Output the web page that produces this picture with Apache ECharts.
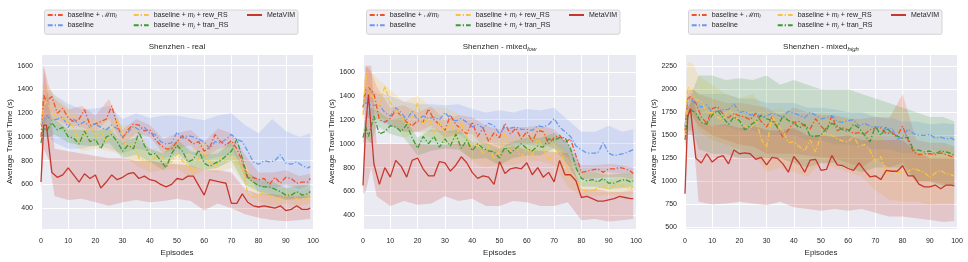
<!DOCTYPE html>
<html><head><meta charset="utf-8">
<script src="https://cdn.jsdelivr.net/npm/echarts@6/dist/echarts.min.js"></script>
<style>html,body{margin:0;padding:0;background:#fff}#c{width:968px;height:262px}</style>
</head><body><div id="c"></div>
<script>
// ---------- data ----------
const episodes = [0,1,2,4,6,8,10,12,14,16,18,20,22,24,26,28,30,32,34,36,38,40,42,44,46,48,50,52,54,56,58,60,62,64,66,68,70,72,74,76,78,80,82,84,86,88,90,92,94,96,98,99];
const bandEpisodes = [0,1,3,5,10,15,20,25,30,35,40,45,50,55,60,65,70,75,80,85,90,95,99];
const seriesNames = ['baseline + ℳm_i','baseline','baseline + m_i + rew_RS','baseline + m_i + tran_RS','MetaVIM'];
const panelTitles = ['Shenzhen - real','Shenzhen - mixed_low','Shenzhen - mixed_high'];
const xLabel = 'Episodes';
const yLabel = 'Average Travel Time (s)';

// Shenzhen - real
const real_bM   = [1000,1350,1300,1340,1200,1240,1160,1130,1150,1230,1100,1110,1130,1150,1260,1100,990,1060,1110,1100,1050,1060,980,930,900,900,960,1010,980,940,960,880,910,1020,960,930,970,900,790,650,660,640,650,600,660,610,660,650,610,620,620,650];
const real_base = [1100,1150,1180,1140,1150,1170,1080,1150,1100,1130,1080,1110,1080,1060,1100,1070,1000,1040,1090,1060,1080,1030,1020,960,940,950,1040,990,1010,1000,980,960,900,960,950,980,1020,980,960,880,790,770,800,790,800,850,780,770,790,760,740,750];
const real_rew  = [1100,1250,1310,1200,1170,1160,1130,1080,960,1020,1100,1000,1050,960,1050,1160,1000,900,960,820,800,780,830,850,780,790,860,800,760,700,820,860,790,740,830,800,850,780,760,520,490,500,540,500,470,490,500,520,480,470,480,500];
const real_tran = [950,1080,1050,1120,1060,1080,1000,990,940,1050,960,980,900,1000,1020,960,880,930,900,1040,930,850,860,800,740,860,930,880,790,810,890,780,750,780,800,840,880,980,820,660,620,590,580,580,560,540,510,510,540,510,520,540];
const real_meta = [620,1100,1100,700,660,680,740,680,620,690,650,680,570,620,680,640,660,690,700,650,670,640,630,600,580,600,650,640,670,670,590,510,640,630,620,610,440,440,520,450,420,410,420,410,400,420,380,390,420,390,390,400];
const real_bM_hi   = [1050,1600,1420,1320,1230,1260,1180,1320,1060,1150,1100,980,1030,1060,960,1070,1030,850,700,700,720,670,690];
const real_bM_lo   = [950,1100,1200,1150,1100,1080,1040,1150,930,1030,1000,860,900,930,820,900,920,660,580,560,600,560,600];
const real_base_hi = [1150,1300,1400,1350,1280,1230,1240,1260,1150,1200,1160,1180,1180,1160,1140,1180,1200,1100,1030,1150,1050,1000,1030];
const real_base_lo = [1050,1000,1000,950,900,900,930,900,860,900,880,820,850,860,800,830,850,780,520,500,480,480,500];
const real_rew_hi  = [1150,1450,1420,1350,1250,1150,1150,1150,1100,1100,900,900,950,900,950,900,950,800,560,560,570,540,560];
const real_rew_lo  = [1050,1100,1150,1100,1000,880,900,880,850,760,700,720,730,660,720,700,740,600,450,420,440,420,440];
const real_tran_hi = [1000,1150,1200,1150,1060,1060,1050,1080,950,1000,900,860,980,880,850,860,960,720,640,620,570,590,590];
const real_tran_lo = [900,1000,1000,1020,950,930,920,950,820,850,790,720,870,750,720,740,800,600,540,510,470,480,490];
const real_meta_hi = [700,1600,1300,900,880,860,840,820,820,800,800,780,770,760,720,720,700,560,520,520,500,500,500];
const real_meta_lo = [530,900,800,500,470,480,450,420,450,470,450,460,480,460,380,440,400,350,320,300,290,300,310];

// Shenzhen - mixed_low
const low_bM   = [1300,1460,1470,1420,1200,1180,1210,1280,1230,1180,1150,1190,1180,1290,1200,1160,1110,1240,1160,1120,1080,1180,1060,1130,1020,1090,1050,1170,1080,1130,1040,1100,1020,1110,1100,1000,1050,1070,1010,1040,900,760,770,780,790,760,790,790,800,790,770,750];
const low_base = [1350,1340,1330,1320,1320,1260,1230,1300,1260,1200,1270,1200,1230,1210,1220,1200,1260,1210,1190,1210,1180,1140,1160,1130,1170,1150,1080,1140,1130,1140,1120,1120,1110,1150,1140,1160,1210,1140,1100,1060,980,950,920,920,920,1010,920,900,910,920,940,950];
const low_rew  = [1240,1580,1430,1380,1310,1480,1340,1280,1230,1150,1210,1340,1150,1220,1090,1180,1090,1180,1050,1170,1060,960,1000,920,980,870,940,1090,930,970,890,960,900,1050,950,870,910,940,840,730,700,620,600,600,630,640,620,650,660,640,620,640];
const low_tran = [1050,1140,1060,1230,1080,1100,1150,1140,1100,1160,1050,960,1060,1000,1060,970,1040,980,1080,960,1030,940,1000,960,940,930,880,970,920,960,1000,960,940,980,970,1040,1030,1050,1050,960,800,710,690,700,680,710,670,670,690,700,680,690];
const low_meta = [650,1150,1410,830,660,800,720,860,810,720,860,880,790,730,730,850,840,770,820,890,840,760,710,730,720,660,850,750,790,800,790,840,740,800,720,760,680,860,740,740,690,550,560,540,520,520,530,540,560,550,540,540];
const low_bM_hi   = [1350,1650,1600,1480,1300,1320,1260,1310,1200,1240,1220,1150,1120,1140,1140,1150,1120,1000,820,820,830,820,800];
const low_bM_lo   = [1250,1350,1350,1250,1150,1100,1100,1150,1050,1080,1080,950,950,1000,1000,1000,960,880,700,710,720,720,700];
const low_base_hi = [1400,1450,1450,1420,1400,1350,1330,1330,1320,1330,1290,1260,1280,1260,1290,1280,1300,1200,1100,1100,1150,1100,1120];
const low_base_lo = [1300,1230,1200,1200,1150,1100,1100,1100,1100,1080,1000,1020,980,980,990,980,1000,900,760,760,760,750,760];
const low_rew_hi  = [1300,1650,1600,1550,1450,1350,1400,1300,1300,1250,1100,1080,1100,1050,1100,1150,1050,920,680,700,700,710,700];
const low_rew_lo  = [1180,1350,1300,1200,1200,1050,1100,1050,1000,980,850,800,830,820,850,850,820,640,560,560,570,570,580];
const low_tran_hi = [1100,1250,1300,1280,1200,1220,1050,1120,1100,1120,1010,1010,960,1020,1050,1050,1090,1000,760,760,740,750,760];
const low_tran_lo = [1000,1050,1000,1150,1080,1050,900,940,960,950,870,880,820,880,900,900,960,820,640,640,620,630,640];
const low_meta_hi = [650,1650,1650,1000,1000,1000,1000,990,990,1000,990,950,950,980,950,940,930,920,620,620,600,600,610];
const low_meta_lo = [580,600,800,560,480,520,490,500,560,520,540,480,480,520,510,480,480,510,360,370,350,360,370];

// Shenzhen - mixed_high
const high_bM   = [1550,1900,1920,1850,1700,1630,1790,1810,1730,1690,1740,1710,1700,1670,1740,1650,1590,1700,1580,1480,1560,1640,1650,1600,1570,1680,1600,1540,1720,1550,1580,1560,1520,1530,1510,1560,1580,1580,1520,1530,1490,1600,1450,1320,1290,1300,1300,1290,1310,1290,1270,1260];
const high_base = [1600,1880,1900,1830,1810,1830,1750,1760,1780,1780,1840,1750,1760,1720,1740,1700,1710,1740,1720,1700,1760,1740,1720,1690,1750,1720,1680,1690,1710,1650,1640,1660,1670,1600,1630,1600,1580,1600,1560,1580,1460,1480,1570,1520,1500,1500,1510,1470,1480,1460,1470,1450];
const high_rew  = [1500,2020,2000,1890,1870,1750,1750,1700,1660,1780,1720,1650,1600,1560,1680,1460,1370,1700,1620,1550,1420,1430,1380,1330,1450,1320,1500,1520,1500,1460,1440,1430,1490,1380,1400,1340,1210,1270,1080,1120,1100,1090,1110,1140,1120,1100,1040,1090,1120,1080,1070,1060];
const high_tran = [1450,1700,1780,1740,1640,1620,1720,1770,1690,1620,1700,1660,1560,1610,1650,1720,1680,1660,1590,1710,1660,1640,1580,1620,1490,1490,1500,1580,1630,1600,1560,1540,1620,1580,1500,1430,1600,1500,1590,1520,1490,1470,1480,1340,1340,1320,1330,1300,1330,1320,1300,1280];
const high_meta = [866,1710,1790,1250,1200,1300,1210,1260,1280,1190,1340,1300,1310,1300,1240,1260,1180,1260,1250,1190,1100,1270,1200,1100,1230,1240,1120,1130,1280,1180,1170,1140,1120,1200,1120,1050,1060,1020,1120,1110,1110,1170,1060,1060,970,940,940,960,920,960,960,950];
const high_bM_hi   = [1650,2000,2000,1950,1900,1850,1850,1830,1800,1720,1800,1750,1720,1720,1680,1680,1700,1680,1950,1450,1420,1420,1380];
const high_bM_lo   = [1450,1750,1700,1600,1500,1450,1400,1380,1300,1300,1300,1280,1260,1250,1200,1150,1250,1150,1200,1000,1000,980,950];
const high_base_hi = [1700,1950,2000,1950,1950,1950,1900,1900,1850,1850,1850,1800,1800,1780,1750,1750,1700,1700,1650,1650,1620,1630,1620];
const high_base_lo = [1500,1800,1750,1650,1600,1600,1550,1550,1500,1500,1500,1450,1450,1400,1400,1380,1350,1350,1300,1320,1350,1300,1300];
const high_rew_hi  = [1700,2300,2280,2150,2050,1950,1900,1950,1750,1800,1700,1650,1750,1700,1700,1650,1550,1400,1380,1350,1300,1380,1350];
const high_rew_lo  = [1350,1750,1700,1550,1450,1400,1350,1300,1100,1150,1100,1050,1200,1150,1100,1050,900,800,780,780,750,760,760];
const high_tran_hi = [1550,1800,2000,2150,2150,2100,2120,2100,2150,2050,2100,2050,2000,2000,2000,1950,1900,1850,1800,1750,1700,1700,1650];
const high_tran_lo = [1350,1550,1550,1350,1300,1300,1250,1250,1250,1250,1200,1150,1200,1200,1150,1100,1150,1150,1150,1000,1000,950,950];
const high_meta_hi = [950,1800,1900,1650,1600,1620,1580,1600,1560,1550,1580,1500,1500,1480,1500,1450,1450,1450,1450,1320,1250,1250,1250];
const high_meta_lo = [850,1500,1500,780,750,760,780,760,740,780,720,700,680,700,680,700,660,620,620,600,580,560,570];

// ---------- style ----------
const FONT = 'Liberation Sans, Arial, sans-serif';
const TXT = '#262626';
const colors = ['#F0522A','#6A98EE','#F8C440','#3E9A32','#C8372D'];
const dashes = [[5,2,1.3,2],[5,2,1.3,2],[5,2,1.3,2],[5,2,1.3,2],'solid'];

const panels = [
  {left:41, top:54, width:272, height:176, ymin:224, ymax:1698, step:200, title:'{a|Shenzhen - real}',
   lines:[real_bM,real_base,real_rew,real_tran,real_meta],
   bands:[[real_bM_lo,real_bM_hi],[real_base_lo,real_base_hi],[real_rew_lo,real_rew_hi],[real_tran_lo,real_tran_hi],[real_meta_lo,real_meta_hi]]},
  {left:363, top:54, width:273, height:177, ymin:286, ymax:1749, step:200, title:'{a|Shenzhen - mixed}{s|low}',
   lines:[low_bM,low_base,low_rew,low_tran,low_meta],
   bands:[[low_bM_lo,low_bM_hi],[low_base_lo,low_base_hi],[low_rew_lo,low_rew_hi],[low_tran_lo,low_tran_hi],[low_meta_lo,low_meta_hi]]},
  {left:685, top:54, width:272, height:176, ymin:482, ymax:2383, step:250, title:'{a|Shenzhen - mixed}{s|high}',
   lines:[high_bM,high_base,high_rew,high_tran,high_meta],
   bands:[[high_bM_lo,high_bM_hi],[high_base_lo,high_base_hi],[high_rew_lo,high_rew_hi],[high_tran_lo,high_tran_hi],[high_meta_lo,high_meta_hi]]}
];

function hexA(hex, a){
  const r=parseInt(hex.slice(1,3),16),g=parseInt(hex.slice(3,5),16),b=parseInt(hex.slice(5,7),16);
  return 'rgba('+r+','+g+','+b+','+a+')';
}

const legendRich = {
  t:{fontSize:7, color:TXT, fontFamily:FONT, lineHeight:9},
  it:{fontSize:7, color:TXT, fontFamily:FONT, fontStyle:'italic', lineHeight:9},
  sub:{fontSize:5, color:TXT, fontFamily:FONT, fontStyle:'italic', lineHeight:6, verticalAlign:'bottom'}
};
const legendFmt = {
  'baseline + ℳm_i':'{t|baseline + ℳ}{it|m}{sub|i}',
  'baseline':'{t|baseline}',
  'baseline + m_i + rew_RS':'{t|baseline + }{it|m}{sub|i}{t| + rew_RS}',
  'baseline + m_i + tran_RS':'{t|baseline + }{it|m}{sub|i}{t| + tran_RS}',
  'MetaVIM':'{t|MetaVIM}'
};

const grid=[], xAxis=[], yAxis=[], series=[], title=[], legend=[], graphic=[];
panels.forEach((p,gi)=>{
  grid.push({left:p.left, top:p.top, width:p.width, height:p.height, show:true, backgroundColor:'#EAEAF2', borderWidth:0});
  xAxis.push({type:'value', gridIndex:gi, min:0, max:100, interval:10,
    axisLine:{show:false}, axisTick:{show:false},
    splitLine:{show:true, lineStyle:{color:'#FFFFFF', width:1}},
    axisLabel:{fontSize:7, color:TXT, fontFamily:FONT, margin:8},
    name:xLabel, nameLocation:'middle', nameGap:18,
    nameTextStyle:{fontSize:8, color:TXT, fontFamily:FONT}});
  yAxis.push({type:'value', gridIndex:gi, min:p.ymin, max:p.ymax, splitNumber:6,
    minInterval:p.step, maxInterval:p.step,
    axisLine:{show:false}, axisTick:{show:false},
    splitLine:{show:true, lineStyle:{color:'#FFFFFF', width:1}},
    axisLabel:{fontSize:7, color:TXT, fontFamily:FONT, margin:8, showMinLabel:false, showMaxLabel:false,
      formatter:(v)=>String(Math.round(v))},
    name:yLabel, nameLocation:'middle', nameGap:27,
    nameTextStyle:{fontSize:8, color:TXT, fontFamily:FONT}});
  title.push({text:p.title, left:p.left+p.width/2, top:42, textAlign:'center', padding:0,
    textStyle:{fontSize:8, fontWeight:'normal', color:TXT, fontFamily:FONT,
      rich:{a:{fontSize:8, color:TXT, fontFamily:FONT, lineHeight:10},
            s:{fontSize:6, color:TXT, fontFamily:FONT, fontStyle:'italic', lineHeight:7, verticalAlign:'bottom'}}}});
  // bands
  p.bands.forEach((b,si)=>{
    const lo=b[0], hi=b[1];
    series.push({type:'custom', name:'band'+gi+'_'+si, xAxisIndex:gi, yAxisIndex:gi, silent:true, z:1,
      data: bandEpisodes.map((x,i)=>[x, lo[i], hi[i]]),
      encode:{x:0, y:[1,2]},
      renderItem:(params, api)=>{
        if(params.dataIndex!==0) return null;
        const pts=[];
        for(let i=0;i<bandEpisodes.length;i++) pts.push(api.coord([bandEpisodes[i], hi[i]]));
        for(let i=bandEpisodes.length-1;i>=0;i--) pts.push(api.coord([bandEpisodes[i], lo[i]]));
        return {type:'polygon', shape:{points:pts}, style:{fill:hexA(colors[si],0.2)}};
      }});
  });
  // lines
  p.lines.forEach((vals,si)=>{
    series.push({type:'line', name:seriesNames[si], xAxisIndex:gi, yAxisIndex:gi, z:3+si,
      data: episodes.map((x,i)=>[x, vals[i]]),
      symbol:'none', showSymbol:false, animation:false,
      lineStyle:{color:colors[si], width:1.3, type:dashes[si]},
      itemStyle:{color:colors[si]}});
  });
  // legend box + legends
  graphic.push({type:'rect', silent:true, z:-1, shape:{x:p.left+3.5, y:10, width:253.5, height:24.3, r:2},
    style:{fill:'#EEEEF4', stroke:'#CCCCCC', lineWidth:0.8}});
  const cols=[[seriesNames[0],seriesNames[1]],[seriesNames[2],seriesNames[3]],[seriesNames[4]]];
  const offs=[5.7, 91.7, 205];
  cols.forEach((c,ci)=>{
    legend.push({data:c, orient:'vertical', left:p.left+offs[ci], top:11.5, padding:0,
      itemWidth:15, itemHeight:8, itemGap:2.3, selectedMode:false,
      itemStyle:{opacity:0},
      formatter:(n)=>legendFmt[n],
      textStyle:{fontSize:7, color:TXT, fontFamily:FONT, rich:legendRich}});
  });
});

const chart = echarts.init(document.getElementById('c'), null, {renderer:'canvas'});
chart.setOption({animation:false, backgroundColor:'#FFFFFF', grid, xAxis, yAxis, series, title, legend, graphic});
</script>
</body></html>
